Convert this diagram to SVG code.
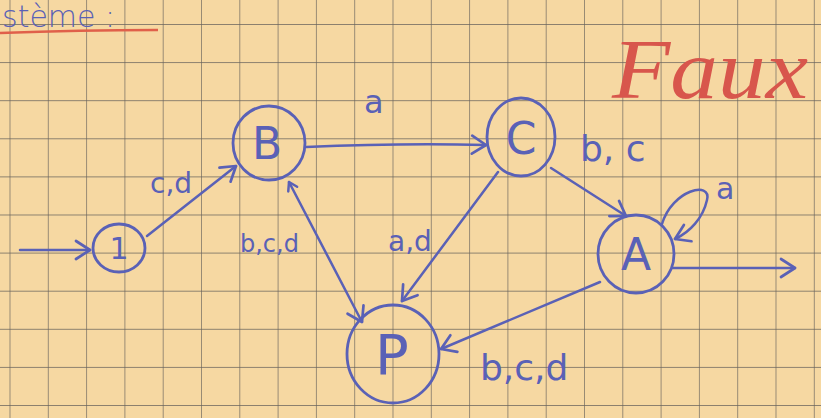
<svg xmlns="http://www.w3.org/2000/svg" width="821" height="418" viewBox="0 0 821 418">
  <defs>
    <pattern id="grid" patternUnits="userSpaceOnUse" x="9.5" y="24" width="38.3" height="38.1">
      <path d="M0 0 H38.3 M0 0 V38.1" fill="none" stroke="#67625b" stroke-width="1.3"/>
    </pattern>
    <marker id="head" markerUnits="userSpaceOnUse" markerWidth="24" markerHeight="24" refX="16" refY="10" orient="auto" overflow="visible">
      <path d="M2 1 L16 10 L2 19" fill="none" stroke="#5a61b6" stroke-width="2.7" stroke-linecap="round" stroke-linejoin="round"/>
    </marker>
    <marker id="headSmall" markerUnits="userSpaceOnUse" markerWidth="16" markerHeight="16" refX="10" refY="6" orient="auto-start-reverse" overflow="visible">
      <path d="M2 1 L10 6 L2 11" fill="none" stroke="#5a61b6" stroke-width="2.5" stroke-linecap="round" stroke-linejoin="round"/>
    </marker>
  </defs>
  <style>
    .ink { fill: none; stroke: #5a61b6; stroke-width: 2.8; stroke-linecap: round; stroke-linejoin: round; }
    .edge { fill: none; stroke: #5a61b6; stroke-width: 2.5; stroke-linecap: round; }
    .lbl { fill: #5a61b6; font-family: "DejaVu Sans", "Liberation Sans", sans-serif; }
    .red { fill: #d8564c; font-family: "Liberation Serif", serif; font-style: italic; }
  </style>

  <!-- squared paper -->
  <rect width="821" height="418" fill="#f6d8a2"/>
  <rect width="821" height="418" fill="url(#grid)"/>

  <!-- heading -->
  <text class="lbl" x="2" y="27" font-size="30" font-weight="300">stème :</text>
  <path d="M0 33 Q80 30 158 30" fill="none" stroke="#e0604a" stroke-width="2.6"/>

  <!-- red remark -->
  <text class="red" x="612" y="98" font-size="84" textLength="196" lengthAdjust="spacingAndGlyphs">Faux</text>

  <!-- transitions -->
  <g id="connectors">
    <line class="edge" x1="20" y1="250" x2="90" y2="250" marker-end="url(#head)"/>
    <line class="edge" x1="147" y1="236" x2="236" y2="166" marker-end="url(#head)"/>
    <path class="edge" d="M306 147 Q400 143 486 145" marker-end="url(#head)"/>
    <line class="edge" x1="289" y1="182" x2="362" y2="322" marker-start="url(#headSmall)" marker-end="url(#head)"/>
    <line class="edge" x1="498" y1="172" x2="402" y2="301" marker-end="url(#head)"/>
    <line class="edge" x1="551" y1="168" x2="626" y2="216" marker-end="url(#head)"/>
    <path class="edge" d="M662 224 C672 190 712 180 707 200 C703 218 690 232 675 239" marker-end="url(#head)"/>
    <line class="edge" x1="673" y1="268" x2="795" y2="268" marker-end="url(#head)"/>
    <line class="edge" x1="600" y1="282" x2="441" y2="349" marker-end="url(#head)"/>

    <text class="lbl" x="150" y="193" font-size="28">c,d</text>
    <text class="lbl" x="364" y="113" font-size="32">a</text>
    <text class="lbl" x="240" y="252" font-size="24">b,c,d</text>
    <text class="lbl" x="388" y="251" font-size="28">a,d</text>
    <text class="lbl" x="580" y="161" font-size="36">b, c</text>
    <text class="lbl" x="716" y="199" font-size="30">a</text>
    <text class="lbl" x="480" y="380" font-size="36">b,c,d</text>
  </g>

  <!-- states -->
  <g id="state-1">
    <ellipse class="ink" cx="119" cy="248" rx="26" ry="24"/>
    <text class="lbl" x="119" y="259" font-size="30" text-anchor="middle">1</text>
  </g>
  <g id="state-B">
    <ellipse class="ink" cx="269" cy="143" rx="36" ry="37"/>
    <text class="lbl" x="267" y="159" font-size="44" text-anchor="middle">B</text>
  </g>
  <g id="state-C">
    <ellipse class="ink" cx="521" cy="137" rx="34" ry="39"/>
    <text class="lbl" x="521" y="154" font-size="44" text-anchor="middle">C</text>
  </g>
  <g id="state-A">
    <ellipse class="ink" cx="636" cy="254" rx="38" ry="39"/>
    <text class="lbl" x="636" y="270" font-size="44" text-anchor="middle">A</text>
  </g>
  <g id="state-P">
    <ellipse class="ink" cx="393" cy="354" rx="46" ry="49"/>
    <text class="lbl" x="392" y="374" font-size="56" text-anchor="middle">P</text>
  </g>
</svg>
